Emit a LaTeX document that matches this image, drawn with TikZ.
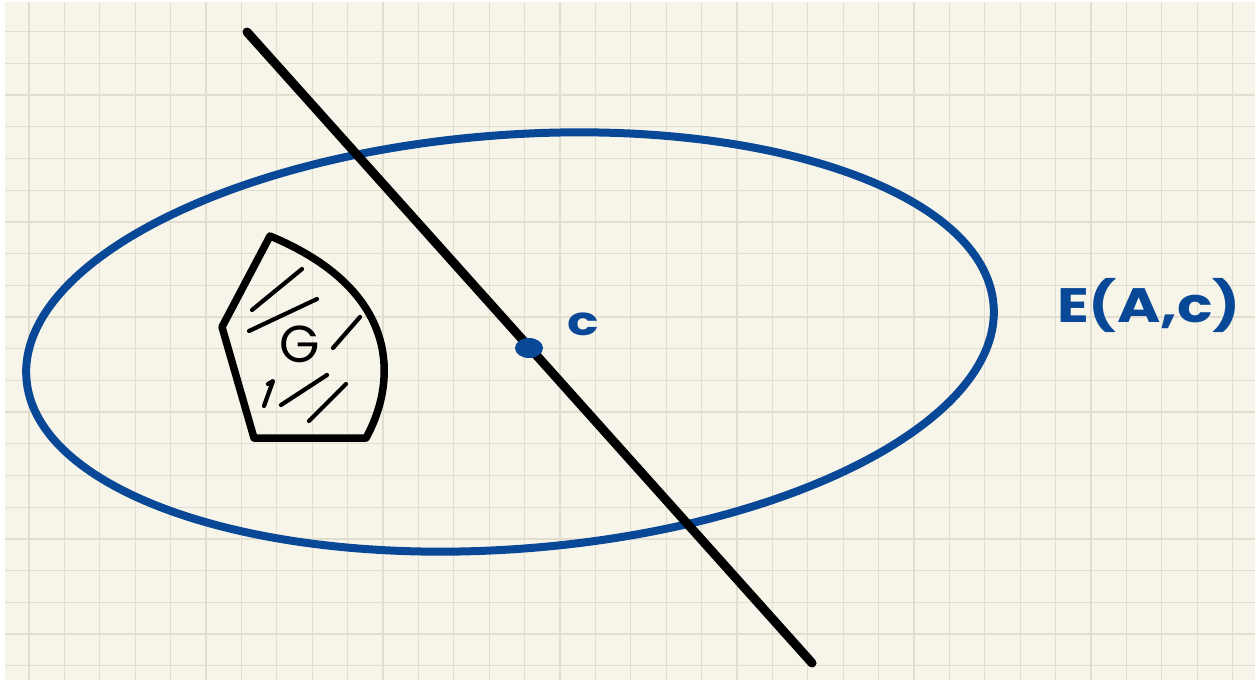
\documentclass[tikz,border=0pt]{standalone}
\usepackage{fontspec}
\newfontfamily\handfont{Poppins}
\usepackage{xcolor}
\definecolor{PaperCream}{RGB}{247,245,234}
\definecolor{GridBeige}{RGB}{225,222,208}
\definecolor{InkBlue}{RGB}{8,72,150}
\usepackage{tikz}
\usetikzlibrary{positioning}

\begin{document}
\begin{tikzpicture}[
    x=1pt,y=-1pt,
    grid/.style={draw=GridBeige,line width=1.3pt},
    ink/.style={line width=9pt,line cap=round,line join=round},
    hatch/.style={line width=4.2pt,line cap=round,line join=round},
    lbl/.style={text=InkBlue,inner sep=0pt},
  ]
    \useasboundingbox (0,0) rectangle (1259,682);
    \fill[white] (0,0) rectangle (1259,682);
    \fill[PaperCream] (5,2) rectangle (1255,680);
    \foreach \i in {0,...,34} \draw[grid] (29+35.4*\i,2) -- (29+35.4*\i,680);
    \foreach \j in {1,...,21} \draw[grid] (5,31.7*\j) -- (1255,31.7*\j);

    \draw[InkBlue,line width=8pt,rotate around={4.34:(510,342)}] (510,342) ellipse [x radius=485pt,y radius=207pt];
    \node[lbl,font=\handfont\bfseries\fontsize{42}{42}\selectfont] (eac) at (1149,305) {\scalebox{1.4}[1.15]{E(A,c)}};

    \coordinate (ltop) at (247,32);
    \coordinate (lbot) at (812,663);
    \draw[ink] (ltop) -- (lbot);
    \coordinate (c) at (529,348);
    \fill[InkBlue] (c) ellipse [x radius=14pt,y radius=10pt];
    \node[lbl,font=\handfont\bfseries\fontsize{40}{40}\selectfont] (clbl) at (583,324) {\scalebox{1.3}[1]{c}};

    \coordinate (gtop) at (270,236);
    \draw[ink,line width=7.5pt] (gtop) -- (222,327) -- (254,438) -- (366,438) .. controls (398,380) and (400,290) .. (gtop);
    \draw[hatch] (302,269) -- (252,310);
    \draw[hatch] (317,299) -- (249,331);
    \draw[hatch] (360,317) -- (333,348);
    \draw[hatch] (268,384) -- (273,381) -- (264,406);
    \draw[hatch] (327,375) -- (281,405);
    \draw[hatch] (346,384) -- (309,421);
    \node[font=\handfont\fontsize{52}{52}\selectfont,inner sep=0pt] (g) at (300,344) {G};
  \end{tikzpicture}
\end{document}
